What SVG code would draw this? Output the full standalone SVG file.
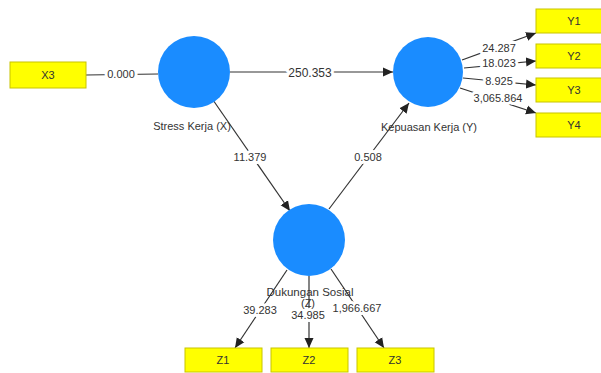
<svg xmlns="http://www.w3.org/2000/svg" width="601" height="373" viewBox="0 0 601 373">
<defs>
<marker id="ah" markerUnits="userSpaceOnUse" markerWidth="10" markerHeight="10" viewBox="0 0 10 10" refX="10" refY="5" orient="auto">
<path d="M0,0.5 L10,5 L0,9.5 Z" fill="#222"/>
</marker>
</defs>
<style>
.bg{fill:#ffffff}
.ind{fill:#ffff00;stroke:#c8c400;stroke-width:1}
.lv{fill:#1a8cff}
.t{font-family:"Liberation Sans",Arial,sans-serif;font-size:11px;fill:#333;text-anchor:middle}
.e{stroke:#333;stroke-width:1.2;fill:none}
.a{marker-end:url(#ah)}
.el{font-family:"Liberation Sans",Arial,sans-serif;font-size:11px;fill:#333;text-anchor:middle;stroke:#fff;stroke-width:6;paint-order:stroke;stroke-linejoin:round}
</style>
<rect class="bg" x="0" y="0" width="601" height="373"/>
<g id="connectors">
<line class="e" x1="86" y1="75" x2="158" y2="74"/>
<line class="e a" x1="230" y1="72" x2="393" y2="72"/>
<line class="e a" x1="213" y1="100" x2="290" y2="211"/>
<line class="e a" x1="329" y1="209" x2="409" y2="103"/>
<line class="e a" x1="462" y1="60" x2="536" y2="33"/>
<line class="e a" x1="464" y1="68" x2="536" y2="61"/>
<line class="e a" x1="463" y1="78" x2="536" y2="85"/>
<line class="e a" x1="460" y1="88" x2="536" y2="113"/>
<line class="e a" x1="287" y1="270" x2="235" y2="348"/>
<line class="e a" x1="309" y1="276" x2="309" y2="348"/>
<line class="e a" x1="331" y1="269" x2="384" y2="348"/>
<text class="el" x="121" y="78">0.000</text>
<text class="el" x="310" y="77" style="font-size:12px">250.353</text>
<text class="el" x="250" y="161">11.379</text>
<text class="el" x="368" y="161">0.508</text>
<text class="el" x="499" y="52">24.287</text>
<text class="el" x="499" y="67">18.023</text>
<text class="el" x="499" y="85">8.925</text>
<text class="el" x="498" y="102">3,065.864</text>
<text class="el" x="260" y="314">39.283</text>
<text class="el" x="308" y="319">34.985</text>
<text class="el" x="357" y="312">1,966.667</text>
</g>
<g id="X3"><rect class="ind" x="10" y="62" width="76" height="26"/><text class="t" x="48" y="79">X3</text></g>
<g id="Y1"><rect class="ind" x="536" y="9" width="76" height="24"/><text class="t" x="574" y="25">Y1</text></g>
<g id="Y2"><rect class="ind" x="536" y="44" width="76" height="24"/><text class="t" x="574" y="60">Y2</text></g>
<g id="Y3"><rect class="ind" x="536" y="78" width="76" height="24"/><text class="t" x="574" y="94">Y3</text></g>
<g id="Y4"><rect class="ind" x="536" y="113" width="76" height="24"/><text class="t" x="574" y="129">Y4</text></g>
<g id="Z1"><rect class="ind" x="185" y="348" width="77" height="24"/><text class="t" x="223" y="364">Z1</text></g>
<g id="Z2"><rect class="ind" x="271" y="348" width="77" height="24"/><text class="t" x="309" y="364">Z2</text></g>
<g id="Z3"><rect class="ind" x="357" y="348" width="77" height="24"/><text class="t" x="395" y="364">Z3</text></g>
<g id="StressKerja"><circle class="lv" cx="194" cy="72" r="36"/><text class="t" x="192" y="130">Stress Kerja (X)</text></g>
<g id="KepuasanKerja"><circle class="lv" cx="428" cy="72" r="35"/><text class="t" x="429" y="131">Kepuasan Kerja (Y)</text></g>
<g id="DukunganSosial"><circle class="lv" cx="309" cy="240" r="36"/><text class="t" x="310" y="296" style="font-size:11.5px">Dukungan Sosial</text><text class="t" x="308" y="307">(Z)</text></g>
</svg>
